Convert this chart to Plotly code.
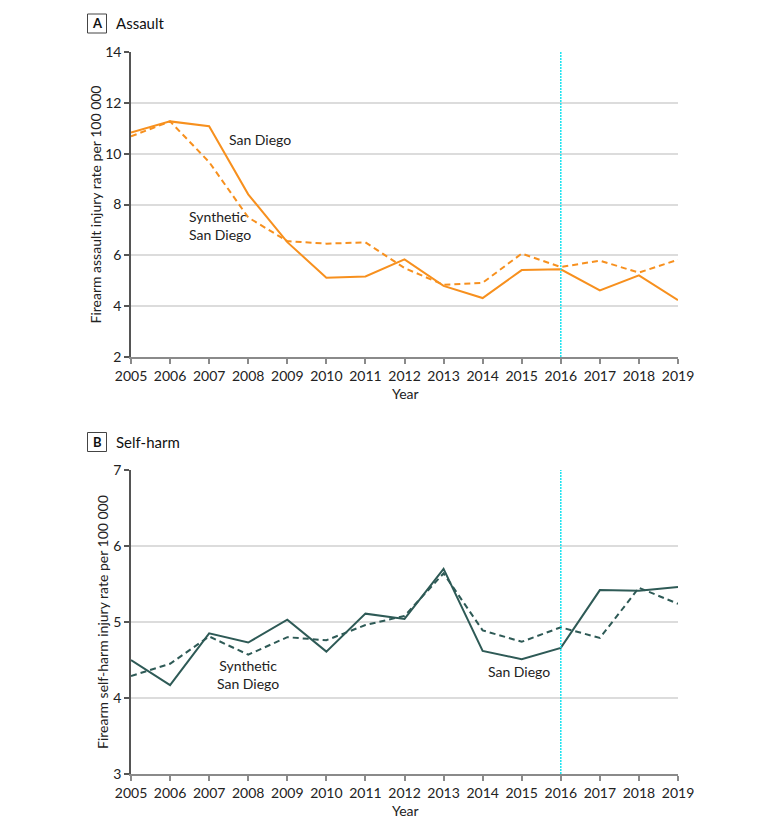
import plotly.graph_objects as go

years = list(range(2005, 2020))

assault_sd = [10.83, 11.27, 11.08, 8.40, 6.52, 5.12, 5.17, 5.84, 4.80, 4.32, 5.42, 5.45, 4.62, 5.21, 4.24]
assault_syn = [10.68, 11.27, 9.67, 7.49, 6.56, 6.46, 6.51, 5.50, 4.84, 4.92, 6.07, 5.54, 5.79, 5.32, 5.83]

selfharm_sd = [4.50, 4.17, 4.85, 4.73, 5.03, 4.61, 5.11, 5.04, 5.70, 4.62, 4.51, 4.66, 5.42, 5.41, 5.46]
selfharm_syn = [4.29, 4.45, 4.81, 4.57, 4.80, 4.76, 4.96, 5.08, 5.64, 4.89, 4.74, 4.93, 4.79, 5.45, 5.24]

policy_year = 2016
assault_range = [2, 14]
assault_ticks = [2, 4, 6, 8, 10, 12, 14]
selfharm_range = [3, 7]
selfharm_ticks = [3, 4, 5, 6, 7]

ORANGE = "#F7901E"
TEAL = "#2E5A56"
CYAN = "#19E3F0"
FONT = "Lato"
W, H = 780, 829
OX, OY = 8, 8  # page body margin offset


def px(pix):
    return (pix - OX) / W


def py(pix):
    return (H - (pix - OY)) / H


fig = go.Figure()

fig.add_trace(go.Scatter(x=years, y=assault_sd, mode="lines", line=dict(color=ORANGE, width=2),
                         xaxis="x", yaxis="y", showlegend=False))
fig.add_trace(go.Scatter(x=years, y=assault_syn, mode="lines", line=dict(color=ORANGE, width=2, dash="6px,4px"),
                         xaxis="x", yaxis="y", showlegend=False))
fig.add_trace(go.Scatter(x=years, y=selfharm_sd, mode="lines", line=dict(color=TEAL, width=2),
                         xaxis="x2", yaxis="y2", showlegend=False))
fig.add_trace(go.Scatter(x=years, y=selfharm_syn, mode="lines", line=dict(color=TEAL, width=2, dash="6px,4px"),
                         xaxis="x2", yaxis="y2", showlegend=False))

xdom = [px(131), px(678)]
yA = [py(357), py(52)]
yB = [py(774), py(470)]

xaxis_common = dict(
    range=[2005, 2019], tickmode="array", tickvals=years, ticktext=[str(y) for y in years],
    showgrid=False, zeroline=False, showline=True, linecolor="#8a8a8a", linewidth=1.5,
    ticks="outside", ticklen=5, tickcolor="#8a8a8a", tickwidth=1.5, automargin=False,
    tickfont=dict(family=FONT, size=14, color="#222"), domain=xdom, fixedrange=True,
)
yaxis_common = dict(
    showgrid=True, gridcolor="#dcdcdc", gridwidth=1.5, zeroline=False, showline=True,
    linecolor="#555", linewidth=1.5, ticks="outside", ticklen=5, tickcolor="#555", tickwidth=1.5,
    automargin=False, tickfont=dict(family=FONT, size=14, color="#222"), fixedrange=True,
)

fig.update_layout(
    template="none",
    width=W, height=H, margin=dict(l=0, r=0, t=0, b=0, pad=0), autosize=False,
    paper_bgcolor="white", plot_bgcolor="white",
    font=dict(family=FONT, size=13, color="#222"),
    xaxis=dict(**xaxis_common, anchor="y"),
    yaxis=dict(**yaxis_common, range=assault_range, tickvals=assault_ticks, domain=yA, anchor="x"),
    xaxis2=dict(**xaxis_common, anchor="y2"),
    yaxis2=dict(**yaxis_common, range=selfharm_range, tickvals=selfharm_ticks, domain=yB, anchor="x2"),
)

# intervention lines
fig.add_shape(type="line", xref="x", yref="y", x0=policy_year, x1=policy_year,
              y0=assault_range[0], y1=assault_range[1], line=dict(color=CYAN, width=1.5, dash="2px,1px"))
fig.add_shape(type="line", xref="x2", yref="y2", x0=policy_year, x1=policy_year,
              y0=selfharm_range[0], y1=selfharm_range[1], line=dict(color=CYAN, width=1.5, dash="2px,1px"))

ann = []
# series labels
ann.append(dict(x=2007.45, y=10.55, xref="x", yref="y", text="San Diego", showarrow=False,
                xanchor="left", yanchor="middle", font=dict(size=14)))
ann.append(dict(x=2006.44, y=7.18, xref="x", yref="y", text="Synthetic<br>San Diego", showarrow=False,
                xanchor="left", yanchor="middle", align="left", font=dict(size=14)))
ann.append(dict(x=2008.0, y=4.31, xref="x2", yref="y2", text="Synthetic<br>San Diego", showarrow=False,
                xanchor="center", yanchor="middle", align="center", font=dict(size=14)))
ann.append(dict(x=2014.93, y=4.35, xref="x2", yref="y2", text="San Diego", showarrow=False,
                xanchor="center", yanchor="middle", font=dict(size=14)))

# axis titles
ann.append(dict(x=px(95), y=py(204.5), xref="paper", yref="paper", text="Firearm assault injury rate per 100 000",
                textangle=-90, showarrow=False, xanchor="center", yanchor="middle", font=dict(size=14)))
ann.append(dict(x=px(102), y=py(622), xref="paper", yref="paper", text="Firearm self-harm injury rate per 100 000",
                textangle=-90, showarrow=False, xanchor="center", yanchor="middle", font=dict(size=14)))
ann.append(dict(x=px(405), y=py(393), xref="paper", yref="paper", text="Year", showarrow=False,
                xanchor="center", yanchor="middle", font=dict(size=14)))
ann.append(dict(x=px(405), y=py(810), xref="paper", yref="paper", text="Year", showarrow=False,
                xanchor="center", yanchor="middle", font=dict(size=14)))

# panel labels
for letter, title, cy in [("A", "Assault", 23.5), ("B", "Self-harm", 442)]:
    fig.add_shape(type="rect", xref="paper", yref="paper", x0=px(87.5), x1=px(106.5),
                  y0=py(cy + 9.5), y1=py(cy - 9.5), line=dict(color="#444", width=1), fillcolor="white")
    ann.append(dict(x=px(97), y=py(cy), xref="paper", yref="paper", text="<b>" + letter + "</b>",
                    showarrow=False, xanchor="center", yanchor="middle", font=dict(size=13, color="#111")))
    ann.append(dict(x=px(114), y=py(cy), xref="paper", yref="paper", text=title,
                    showarrow=False, xanchor="left", yanchor="middle", font=dict(size=15, color="#111")))

fig.update_layout(annotations=ann)

fig.write_html("out.html")
